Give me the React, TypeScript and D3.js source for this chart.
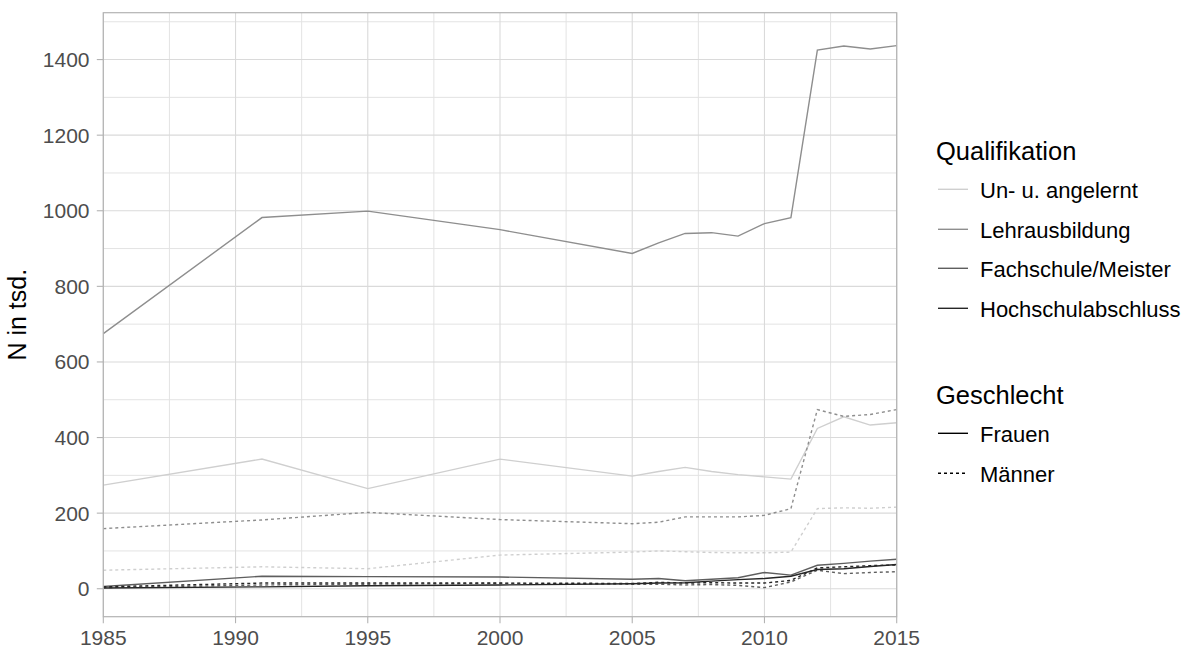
import React from "react";
import * as d3 from "d3";

const years = [1985, 1991, 1995, 2000, 2005, 2006, 2007, 2008, 2009, 2010, 2011, 2012, 2013, 2014, 2015];

const qualifications = ["Un- u. angelernt", "Lehrausbildung", "Fachschule/Meister", "Hochschulabschluss"];
const sexes = ["Frauen", "Männer"];

const unFrauen = [274, 343, 265, 343, 298, 310, 321, 310, 302, 296, 290, 424, 455, 433, 439];
const unMaenner = [49, 58, 53, 89, 97, 100, 98, 96, 95, 95, 97, 212, 214, 213, 216];
const lehrFrauen = [675, 982, 999, 950, 887, 915, 940, 942, 933, 966, 982, 1425, 1436, 1428, 1437];
const lehrMaenner = [159, 182, 202, 183, 172, 176, 190, 190, 190, 194, 212, 474, 456, 461, 474];
const fachFrauen = [6, 33, 32, 31, 25, 27, 21, 25, 29, 43, 36, 62, 67, 73, 78];
const fachMaenner = [3, 10, 12, 14, 12, 12, 10, 11, 9, 3, 18, 49, 40, 43, 45];
const hochFrauen = [2, 5, 8, 10, 13, 15, 16, 20, 24, 27, 33, 51, 53, 59, 64];
const hochMaenner = [5, 15, 15, 15, 14, 17, 15, 16, 15, 15, 22, 55, 58, 61, 63];

const yTicks = [0, 200, 400, 600, 800, 1000, 1200, 1400];
const yMinor = [100, 300, 500, 700, 900, 1100, 1300, 1500];
const xTicks = [1985, 1990, 1995, 2000, 2005, 2010, 2015];
const xMinor = [1987.5, 1992.5, 1997.5, 2002.5, 2007.5, 2012.5];

const series = [
  { q: 0, s: 0, values: unFrauen },
  { q: 0, s: 1, values: unMaenner },
  { q: 1, s: 0, values: lehrFrauen },
  { q: 1, s: 1, values: lehrMaenner },
  { q: 2, s: 0, values: fachFrauen },
  { q: 2, s: 1, values: fachMaenner },
  { q: 3, s: 0, values: hochFrauen },
  { q: 3, s: 1, values: hochMaenner },
];

const W = 1188;
const H = 649;
const panel = { left: 103.3, right: 896.7, top: 12.7, bottom: 616.7 };
const colors = ["#cfcfcf", "#8e8e8e", "#5e5e5e", "#262626"];
const dashes = [null, "3,3"];
const FONT = "'Liberation Sans', Arial, sans-serif";

export default function App() {
  const x = d3.scaleLinear().domain([1985, 2015]).range([panel.left, panel.right]);
  const y = d3.scaleLinear().domain([-74, 1524]).range([panel.bottom, panel.top]);
  const line = d3
    .line<number>()
    .x((_, i) => x(years[i]))
    .y((d) => y(d));

  const legendX = 938;
  const qualY = [189.3, 229.3, 268.3, 308.3];
  const sexY = [433.3, 473.3];

  return (
    <svg
      width={W}
      height={H}
      style={{ position: "absolute", left: 0, top: 0, background: "#fff" }}
      fontFamily={FONT}
    >
      <rect x={0} y={0} width={W} height={H} fill="#fff" />
      <g>
        {yMinor.map((v) => (
          <line key={"ym" + v} x1={panel.left} x2={panel.right} y1={y(v)} y2={y(v)} stroke="#e3e3e3" strokeWidth={1} />
        ))}
        {xMinor.map((v) => (
          <line key={"xm" + v} x1={x(v)} x2={x(v)} y1={panel.top} y2={panel.bottom} stroke="#e3e3e3" strokeWidth={1} />
        ))}
        {yTicks.map((v) => (
          <line key={"yg" + v} x1={panel.left} x2={panel.right} y1={y(v)} y2={y(v)} stroke="#dadada" strokeWidth={1.1} />
        ))}
        {xTicks.map((v) => (
          <line key={"xg" + v} x1={x(v)} x2={x(v)} y1={panel.top} y2={panel.bottom} stroke="#dadada" strokeWidth={1.1} />
        ))}
      </g>
      <g fill="none">
        {series.map((sr, i) => (
          <path
            key={i}
            d={line(sr.values) || ""}
            stroke={colors[sr.q]}
            strokeWidth={1.4}
            strokeDasharray={dashes[sr.s] || undefined}
          />
        ))}
      </g>
      <rect
        x={panel.left}
        y={panel.top}
        width={panel.right - panel.left}
        height={panel.bottom - panel.top}
        fill="none"
        stroke="#b3b3b3"
        strokeWidth={1.2}
      />
      <g>
        {yTicks.map((v) => (
          <g key={"yt" + v}>
            <line x1={panel.left - 6.5} x2={panel.left} y1={y(v)} y2={y(v)} stroke="#b3b3b3" strokeWidth={1.1} />
            <text x={89.5} y={y(v) + 7.5} textAnchor="end" fontSize={21} fill="#4d4d4d">
              {v}
            </text>
          </g>
        ))}
        {xTicks.map((v) => (
          <g key={"xt" + v}>
            <line x1={x(v)} x2={x(v)} y1={panel.bottom} y2={panel.bottom + 6.5} stroke="#b3b3b3" strokeWidth={1.1} />
            <text x={x(v)} y={644.5} textAnchor="middle" fontSize={21} fill="#4d4d4d">
              {v}
            </text>
          </g>
        ))}
      </g>
      <text
        transform={`translate(26, ${(panel.top + panel.bottom) / 2}) rotate(-90)`}
        textAnchor="middle"
        fontSize={25}
        fill="#000"
      >
        N in tsd.
      </text>
      <g>
        <text x={936} y={160} fontSize={25.5} fill="#000">
          Qualifikation
        </text>
        {qualifications.map((q, i) => (
          <g key={q}>
            <line x1={legendX} x2={legendX + 30} y1={qualY[i]} y2={qualY[i]} stroke={colors[i]} strokeWidth={1.4} />
            <text x={980} y={qualY[i] + 8.5} fontSize={22} fill="#000">
              {q}
            </text>
          </g>
        ))}
        <text x={936} y={403.5} fontSize={25.5} fill="#000">
          Geschlecht
        </text>
        {sexes.map((s, i) => (
          <g key={s}>
            <line
              x1={legendX}
              x2={legendX + 30}
              y1={sexY[i]}
              y2={sexY[i]}
              stroke="#000"
              strokeWidth={1.4}
              strokeDasharray={dashes[i] || undefined}
            />
            <text x={980} y={sexY[i] + 8.5} fontSize={22} fill="#000">
              {s}
            </text>
          </g>
        ))}
      </g>
    </svg>
  );
}
